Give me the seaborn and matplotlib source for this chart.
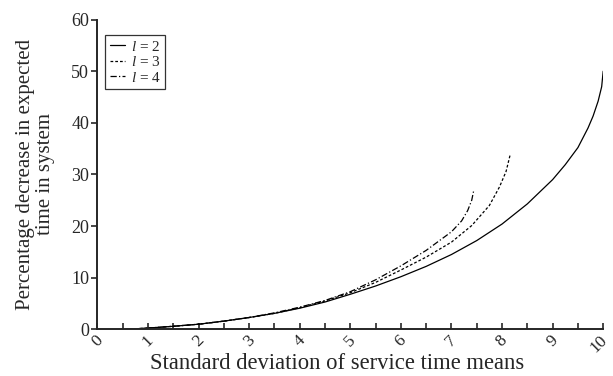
import pandas as pd
import matplotlib
matplotlib.use('Agg')
import matplotlib.pyplot as plt
import matplotlib.transforms as mtransforms
import seaborn as sns
from matplotlib.ticker import MultipleLocator

# dane (l = 2, 3, 4)
x_l2 = [0.55, 1.0, 1.5, 2.0, 2.5, 3.0, 3.5, 4.0, 4.5, 5.0, 5.5, 6.0, 6.5, 7.0, 7.5,
        8.0, 8.5, 9.0, 9.25, 9.5, 9.7, 9.8, 9.9, 9.97, 10.0]
y_l2 = [0.0, 0.25, 0.6, 1.0, 1.6, 2.3, 3.1, 4.1, 5.3, 6.8, 8.4, 10.2, 12.2, 14.5, 17.2,
        20.4, 24.3, 29.0, 31.9, 35.2, 39.0, 41.3, 44.2, 47.0, 50.0]

x_l3 = [0.55, 1.0, 1.5, 2.0, 2.5, 3.0, 3.5, 4.0, 4.5, 5.0, 5.5, 6.0, 6.5, 7.0, 7.4,
        7.75, 7.95, 8.08, 8.16]
y_l3 = [0.0, 0.25, 0.6, 1.0, 1.6, 2.3, 3.1, 4.2, 5.5, 7.1, 9.1, 11.5, 14.0, 16.9, 20.1,
        24.0, 27.6, 30.6, 33.8]

x_l4 = [0.55, 1.0, 1.5, 2.0, 2.5, 3.0, 3.5, 4.0, 4.5, 5.0, 5.5, 6.0, 6.5, 7.0, 7.2,
        7.32, 7.4, 7.44]
y_l4 = [0.0, 0.25, 0.6, 1.0, 1.6, 2.3, 3.2, 4.3, 5.6, 7.3, 9.6, 12.3, 15.3, 18.9, 21.0,
        23.0, 25.0, 26.9]

x_ticks = list(range(0, 11))
y_ticks = [0, 10, 20, 30, 40, 50, 60]

sns.set_style('ticks')
plt.rcParams['font.family'] = ['Liberation Serif', 'DejaVu Serif']
plt.rcParams['mathtext.fontset'] = 'custom'
plt.rcParams['mathtext.rm'] = 'Liberation Serif'
plt.rcParams['mathtext.it'] = 'Liberation Serif:italic'

fig = plt.figure(figsize=(6.13, 3.76), dpi=100)
ax = fig.add_axes([0.159, 0.124, 0.825, 0.824])

sns.lineplot(x=x_l2, y=y_l2, ax=ax, color='black', linewidth=0.9,
             label=r'$l$ = 2', sort=False)
sns.lineplot(x=x_l3, y=y_l3, ax=ax, color='black', linewidth=0.9,
             linestyle=(0, (2.2, 1.6)), label=r'$l$ = 3', sort=False)
sns.lineplot(x=x_l4, y=y_l4, ax=ax, color='black', linewidth=0.9,
             linestyle=(0, (5, 1.8, 1, 1.8)), label=r'$l$ = 4', sort=False)

ax.set_xlim(0, 10)
ax.set_ylim(0, 60)
ax.set_xticks(x_ticks)
ax.xaxis.set_minor_locator(MultipleLocator(0.5))
ax.set_yticks(y_ticks)
ax.tick_params(axis='x', which='both', direction='in', length=4, width=1.2,
               labelsize=12.5, pad=2)
ax.tick_params(axis='y', direction='out', length=4, width=1.2, labelsize=13, pad=2)
for lab in ax.get_xticklabels():
    lab.set_rotation(45)
    lab.set_ha('center')
    lab.set_va('top')
# ostatnia etykieta ("10") lekko w lewo, zeby sie nie ucinala
last = ax.get_xticklabels()[-1]
last.set_transform(last.get_transform() +
                   mtransforms.ScaledTranslation(-4 / 100, 0, fig.dpi_scale_trans))

sns.despine(ax=ax)
for s in ['left', 'bottom']:
    ax.spines[s].set_linewidth(1.4)

ax.set_xlabel('Standard deviation of service time means', fontsize=16.3)
ax.xaxis.set_label_coords(0.474, -0.075)
ax.set_ylabel('Percentage decrease in expected\ntime in system', fontsize=15,
              linespacing=1.1)
ax.yaxis.set_label_coords(-0.084, 0.5)

leg = ax.legend(loc='upper left', bbox_to_anchor=(0.015, 0.95), fontsize=11,
                frameon=True, fancybox=False, edgecolor='black', handlelength=1.0,
                handletextpad=0.4, borderpad=0.3, labelspacing=0.1, borderaxespad=0)
leg.get_frame().set_linewidth(0.9)

fig.savefig('out.png', dpi=100)
